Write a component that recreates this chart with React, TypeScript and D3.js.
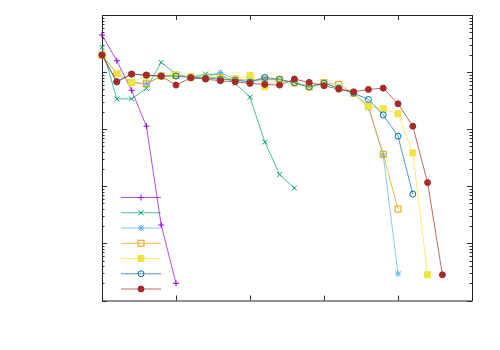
import React, { useRef, useEffect } from 'react';
import * as d3 from 'd3';

// x positions are sample indices 0..25, y is log scale 1..1e5
const xTicks = [0, 5, 10, 15, 20, 25];

const seriesPlus = [44600, 15800, 4800, 1130, 21, 2];
const seriesCross = [27100, 3400, 3400, 5180, 14800, 9100, 8070, 9230, 9100, 6340, 3640, 598, 160, 93];
const seriesStar = [19900, 9490, 6600, 6240, 8510, 8860, 8170, 8170, 9800, 7540, 6690, 7540, 7240, 6500, 5460, 6420, 5240, 4280, 2370, 350, 2.94];
const seriesOpenSquare = [19900, 9490, 6600, 6240, 8510, 8860, 8170, 8030, 8030, 7540, 7240, 7540, 7240, 6500, 5680, 6500, 6090, 4280, 2530, 364, 40];
const seriesFilledSquare = [19900, 9490, 6600, 8510, 8510, 8860, 8170, 7860, 7860, 7540, 8720, 5530, 7450, 6500, 5460, 6420, 5240, 4280, 2530, 2270, 1860, 384, 2.82];
const seriesOpenCircle = [19900, 6760, 9230, 8860, 8510, 8510, 8030, 7860, 7540, 7240, 6690, 8070, 7450, 6500, 5460, 6420, 5240, 4280, 3320, 1780, 754, 73];
const seriesFilledCircle = [19900, 6760, 9230, 8860, 8510, 5920, 7940, 7540, 7040, 6760, 6340, 6090, 5920, 7540, 6600, 5770, 5030, 4510, 4970, 5240, 2780, 1130, 116, 2.82];

const series = [
    { values: seriesPlus, color: '#9400d3', marker: 'plus' },
    { values: seriesCross, color: '#009e73', marker: 'cross' },
    { values: seriesStar, color: '#56b4e9', marker: 'star' },
    { values: seriesOpenSquare, color: '#e69f00', marker: 'openSquare' },
    { values: seriesFilledSquare, color: '#f0e442', marker: 'filledSquare' },
    { values: seriesOpenCircle, color: '#0072b2', marker: 'openCircle' },
    { values: seriesFilledCircle, color: '#a52a2a', marker: 'filledCircle' },
];

function drawMarker(g, type, cx, cy, color) {
    const s = 3;
    const plusPath = `M${cx - s},${cy}H${cx + s}M${cx},${cy - s}V${cy + s}`;
    const crossPath = `M${cx - 2.5},${cy - 2.5}L${cx + 2.5},${cy + 2.5}M${cx - 2.5},${cy + 2.5}L${cx + 2.5},${cy - 2.5}`;
    if (type === 'plus' || type === 'cross' || type === 'star') {
        const d = type === 'plus' ? plusPath : type === 'cross' ? crossPath : plusPath + crossPath;
        g.append('path').attr('d', d).attr('stroke', color).attr('stroke-width', 1).attr('fill', 'none');
    } else if (type === 'openSquare' || type === 'filledSquare') {
        g.append('rect')
            .attr('x', cx - 3).attr('y', cy - 3)
            .attr('width', 6).attr('height', 6)
            .attr('fill', type === 'filledSquare' ? color : 'none')
            .attr('stroke', color).attr('stroke-width', 1);
    } else {
        g.append('circle')
            .attr('cx', cx).attr('cy', cy).attr('r', 3)
            .attr('fill', type === 'filledCircle' ? color : 'none')
            .attr('stroke', color).attr('stroke-width', 1);
    }
}

const Chart = () => {
    const svgRef = useRef(null);

    useEffect(() => {
        const width = 500;
        const height = 350;
        const left = 102;
        const right = 472;
        const top = 15;
        const bottom = 300.5;

        const svg = d3.select(svgRef.current)
            .attr('width', width)
            .attr('height', height);
        svg.selectAll('*').remove();

        const x = d3.scaleLinear().domain([0, 25]).range([left, right]);
        const y = d3.scaleLog().domain([1, 1e5]).range([bottom, top]);

        // ticks: x on bottom/top, log ticks on left/right, all inward
        const ticks = svg.append('g').attr('stroke', '#333').attr('stroke-width', 1);
        xTicks.slice(1, -1).forEach(t => {
            const px = Math.round(x(t)) + 0.5;
            ticks.append('line').attr('x1', px).attr('x2', px).attr('y1', bottom).attr('y2', bottom - 5);
            ticks.append('line').attr('x1', px).attr('x2', px).attr('y1', top).attr('y2', top + 5);
        });
        y.ticks().forEach(t => {
            const py = Math.round(y(t)) + 0.5;
            const major = Math.abs(Math.log10(t) - Math.round(Math.log10(t))) < 1e-9;
            const len = major ? 5 : 2.5;
            ticks.append('line').attr('x1', left).attr('x2', left + len).attr('y1', py).attr('y2', py);
            ticks.append('line').attr('x1', right).attr('x2', right - len).attr('y1', py).attr('y2', py);
        });

        // border
        svg.append('rect')
            .attr('x', left + 0.5).attr('y', top + 0.5)
            .attr('width', right - left).attr('height', bottom - top)
            .attr('fill', 'none').attr('stroke', '#222').attr('stroke-width', 1);

        const line = d3.line()
            .x((d, i) => x(i))
            .y(d => y(d));

        series.forEach(s => {
            const g = svg.append('g');
            g.append('path')
                .datum(s.values)
                .attr('fill', 'none')
                .attr('stroke', s.color)
                .attr('stroke-opacity', 0.7)
                .attr('stroke-width', 1)
                .attr('d', line);
            s.values.forEach((v, i) => drawMarker(g, s.marker, x(i), y(v), s.color));
        });

        // legend (no titles)
        series.forEach((s, i) => {
            const ly = 197.5 + i * 15.25;
            const g = svg.append('g');
            g.append('line')
                .attr('x1', 121).attr('x2', 161)
                .attr('y1', ly).attr('y2', ly)
                .attr('stroke', s.color)
                .attr('stroke-opacity', 0.7)
                .attr('stroke-width', 1);
            drawMarker(g, s.marker, 141, ly, s.color);
        });
    }, []);

    return (
        <svg ref={svgRef} style={{ position: 'absolute', left: 0, top: 0, background: '#fff' }}></svg>
    );
};

export default function App() {
    return <Chart />;
}
